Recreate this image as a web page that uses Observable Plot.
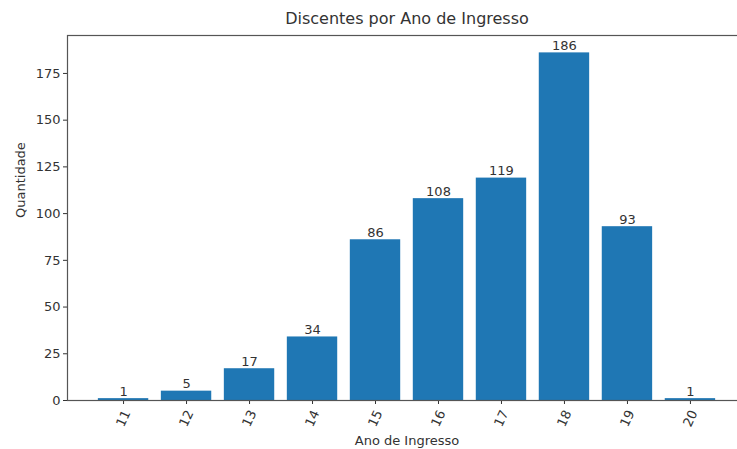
<!DOCTYPE html>
<html>
<head>
<meta charset="utf-8">
<script src="https://cdn.jsdelivr.net/npm/d3@7"></script>
<script src="https://cdn.jsdelivr.net/npm/@observablehq/plot@0.6"></script>
<style>
  html, body { margin: 0; padding: 0; background: #fff; }
  #wrap { width: 737px; height: 449px; overflow: hidden; }
  #wrap svg { max-width: none !important; }
</style>
</head>
<body>
<div id="wrap"></div>
<script>
const years = [11, 12, 13, 14, 15, 16, 17, 18, 19, 20];
const counts = [1, 5, 17, 34, 86, 108, 119, 186, 93, 1];
const yTicks = [0, 25, 50, 75, 100, 125, 150, 175];
const title = "Discentes por Ano de Ingresso";
const xLabel = "Ano de Ingresso";
const yLabel = "Quantidade";

const data = years.map((y, i) => ({year: y, count: counts[i]}));
const font = "DejaVu Sans, sans-serif";
const txt = "#333";
const spine = "#555";

const chart = Plot.plot({
  width: 760,
  height: 449,
  marginLeft: 67,
  marginRight: 14,
  marginTop: 35,
  marginBottom: 49,
  style: {fontFamily: font, fontSize: "13px", color: txt, background: "#fff", overflow: "hidden", maxWidth: "none"},
  x: {domain: [10.11, 20.89], ticks: years, tickFormat: () => "", tickSize: 4, label: null},
  y: {domain: [0, 195.3], ticks: yTicks, tickSize: 4, tickPadding: 3, label: null, tickFormat: d => d},
  marks: [
    Plot.rectY(data, {x1: d => d.year - 0.4, x2: d => d.year + 0.4, y1: 0, y2: "count", fill: "#1f77b4"}),
    Plot.text(data, {x: "year", y: "count", text: d => String(d.count), lineAnchor: "bottom", dy: -3, fill: txt, fontSize: 13}),
    Plot.text(years, {x: d => d, frameAnchor: "bottom", dy: 18, rotate: -65, text: d => String(d), textAnchor: "middle", lineAnchor: "middle", fill: txt, fontSize: 13}),
    Plot.frame({stroke: spine, strokeWidth: 1.2}),
    Plot.text([title], {frameAnchor: "top", dy: -17, text: d => d, fill: txt, fontSize: 16, lineAnchor: "middle"}),
    Plot.text([xLabel], {frameAnchor: "bottom", dy: 40, text: d => d, fill: txt, fontSize: 13, lineAnchor: "middle"}),
    Plot.text([yLabel], {frameAnchor: "left", dx: -47, rotate: -90, text: d => d, fill: txt, fontSize: 13, lineAnchor: "middle"})
  ]
});
document.getElementById("wrap").appendChild(chart);
</script>
</body>
</html>
